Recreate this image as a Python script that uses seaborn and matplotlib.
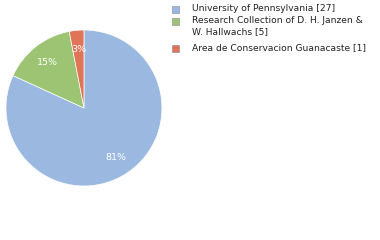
import matplotlib
matplotlib.use("Agg")
import matplotlib.pyplot as plt
import seaborn as sns

labels = ["University of Pennsylvania [27]",
          "Research Collection of D. H. Janzen &\nW. Hallwachs [5]",
          "Area de Conservacion Guanacaste [1]"]
counts = [27, 5, 1]
colors = ["#9bb9e0", "#9cc472", "#e07458"]

sns.set_style("white")
plt.rcParams['font.family'] = ['DejaVu Sans']

fig = plt.figure(figsize=(3.8, 2.4), dpi=100)
ax = fig.add_axes([0.221 - 0.2053, 0.55 - 0.325, 0.4105, 0.65])
wedges, texts, autotexts = ax.pie(
    counts, colors=colors, startangle=90, counterclock=False,
    autopct=lambda p: f"{int(p)}%", pctdistance=0.75,
    wedgeprops=dict(linewidth=0.5, edgecolor="white"),
    textprops=dict(color="white", fontsize=6.8))
ax.set_aspect("equal")
ax.set_xlim(-1, 1)
ax.set_ylim(-1, 1)

ys = [9, 21, 48]
for lab, c, y in zip(labels, colors, ys):
    fig.patches.append(plt.Rectangle((172 / 380, 1 - (y + 4) / 240), 7 / 380, 7 / 240,
                                     transform=fig.transFigure, facecolor=c,
                                     edgecolor="#888888", linewidth=0.4))
    fig.text(192 / 380, 1 - (y - 5) / 240, lab, fontsize=6.55, va="top", ha="left",
             color="#222222", linespacing=1.25)

fig.savefig("out.png", dpi=100)
